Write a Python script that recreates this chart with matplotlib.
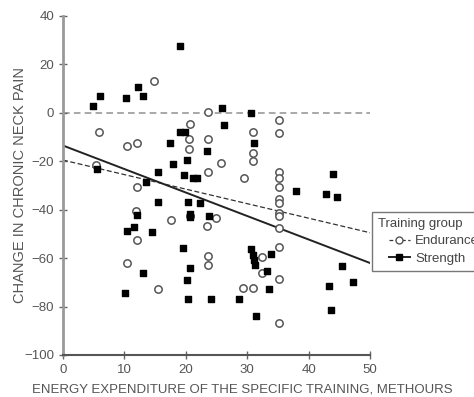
import matplotlib
matplotlib.use("Agg")
import matplotlib.pyplot as plt
from matplotlib.lines import Line2D
from matplotlib.legend_handler import HandlerLine2D

plt.rcParams["font.family"] = ["Liberation Sans", "DejaVu Sans"]

# Strength group (filled squares)
strength_x = [4.9, 6.0, 10.2, 12.2, 13.0, 19.0, 25.9, 30.7, 26.3, 31.1,
              17.4, 19.0, 19.8, 23.4, 17.9, 20.2, 19.7, 21.1, 21.8, 5.5,
              15.4, 13.5, 15.4, 20.3, 22.3, 12.0, 20.7, 20.7, 23.7, 10.4,
              11.5, 14.5, 19.5, 20.7, 13.0, 20.2, 10.1, 20.3, 24.1, 28.6,
              37.9, 43.9, 42.8, 44.6, 30.7, 30.9, 31.1, 31.2, 33.8, 33.3,
              33.5, 31.5, 45.5, 47.3, 43.3, 43.6]
strength_y = [2.9, 7.0, 6.2, 10.7, 7.0, 27.6, 2.1, 0.0, -4.9, -12.4,
              -12.4, -7.8, -7.8, -15.7, -21.0, -19.4, -25.6, -26.8, -26.8, -23.1,
              -24.3, -28.5, -36.7, -36.7, -37.1, -42.1, -41.6, -42.9, -42.5, -48.7,
              -47.0, -49.1, -55.7, -63.9, -66.0, -68.9, -74.6, -76.7, -76.7, -76.7,
              -32.2, -25.2, -33.4, -34.6, -56.1, -58.6, -60.6, -62.7, -58.1, -65.2,
              -72.6, -84.1, -63.1, -69.7, -71.3, -81.6]

# Endurance group (open circles)
endurance_x = [5.9, 10.4, 12.0, 14.8, 23.6, 20.7, 20.5, 20.5, 23.6, 23.6,
               25.7, 5.4, 12.0, 29.4, 35.1, 35.1, 30.9, 30.9, 30.9, 35.1,
               35.1, 35.1, 35.1, 35.1, 35.1, 35.1, 35.1, 11.9, 17.6, 24.9,
               20.7, 23.4, 12.0, 23.6, 23.6, 10.4, 15.4, 32.4, 32.4, 35.1,
               35.1, 29.3, 30.9, 35.1]
endurance_y = [-7.8, -13.6, -12.4, 13.2, 0.4, -4.5, -10.7, -14.8, -10.7, -24.3,
               -20.6, -21.4, -30.5, -26.8, -2.9, -8.2, -7.8, -16.5, -19.8, -24.3,
               -26.8, -30.5, -35.5, -37.1, -41.2, -42.5, -47.4, -40.4, -44.1, -43.3,
               -42.5, -46.6, -52.4, -59.0, -62.7, -61.9, -72.6, -59.4, -66.0, -55.3,
               -68.5, -72.2, -72.2, -86.6]

# regression lines (values at x = 0 and x = 50)
fit_x = [0, 50]
strength_fit = [-13.5, -62.0]
endurance_fit = [-19.5, -49.5]


class MarkerFirst(HandlerLine2D):
    # marker at the left end, line drawn after it
    def get_xdata(self, legend, xdescent, ydescent, width, height, fontsize):
        x0 = -xdescent
        x1 = -xdescent + width
        return [x0 + 0.35 * width, x1], [x0 + 0.1 * width]


fig = plt.figure(figsize=(4.74, 3.97), dpi=100)
ax = fig.add_axes([0.1329, 0.1058, 0.6477, 0.8539])

ax.plot([0, 50], [0, 0], color="#999999", lw=1.2, ls=(0, (4, 2.5)), zorder=1)
ax.plot(fit_x, endurance_fit, color="#333333", lw=0.9, ls=(0, (4, 2)), zorder=2)
ax.plot(fit_x, strength_fit, color="#222222", lw=1.4, zorder=2)

ax.scatter(endurance_x, endurance_y, s=28, marker="o", facecolors="white",
           edgecolors="#555555", linewidths=1.1, zorder=3)
ax.scatter(strength_x, strength_y, s=24, marker="s", color="black", zorder=4)

ax.set_xlim(0, 50)
ax.set_ylim(-100, 40)
ax.set_xticks([0, 10, 20, 30, 40, 50])
ax.set_yticks([-100, -80, -60, -40, -20, 0, 20, 40])
ax.set_yticklabels(["\u2212100", "\u221280", "\u221260", "\u221240", "\u221220", "0", "20", "40"])

for s in ["top", "right"]:
    ax.spines[s].set_visible(False)
ax.spines["left"].set_color("#999999")
ax.spines["left"].set_linewidth(2)
ax.spines["bottom"].set_color("#555555")
ax.spines["bottom"].set_linewidth(1.5)
ax.tick_params(axis="both", direction="inout", length=6, width=1, colors="#666666",
               labelsize=9.5, labelcolor="#555555")

ax.set_xlabel("ENERGY EXPENDITURE OF THE SPECIFIC TRAINING, METHOURS",
              fontsize=9.5, color="#555555")
ax.xaxis.set_label_coords(0.583, -0.085)
ax.set_ylabel("CHANGE IN CHRONIC NECK PAIN", fontsize=10.5, color="#555555")
ax.yaxis.set_label_coords(-0.118, 0.5)

handles = [
    Line2D([], [], color="#333333", lw=0.9, ls=(0, (3, 2)), marker="o",
           markerfacecolor="white", markeredgecolor="#555555", markersize=5),
    Line2D([], [], color="#222222", lw=1.4, marker="s", markerfacecolor="black",
           markeredgecolor="black", markersize=4.5),
]
leg = fig.legend(handles, ["Endurance", "Strength"], title="Training group",
                 loc="upper left", bbox_to_anchor=(0.785, 0.466), borderaxespad=0,
                 fontsize=9.5, title_fontsize=9.5, frameon=True, fancybox=False,
                 handlelength=2.4, handletextpad=0.4, borderpad=0.45, labelspacing=0.4,
                 numpoints=1, handler_map={Line2D: MarkerFirst(numpoints=1)})
leg._legend_box.align = "left"
leg.get_frame().set_edgecolor("#555555")
leg.get_frame().set_linewidth(1)
for t in leg.get_texts():
    t.set_color("#444444")
leg.get_title().set_color("#444444")

fig.savefig("out.png", dpi=100)
